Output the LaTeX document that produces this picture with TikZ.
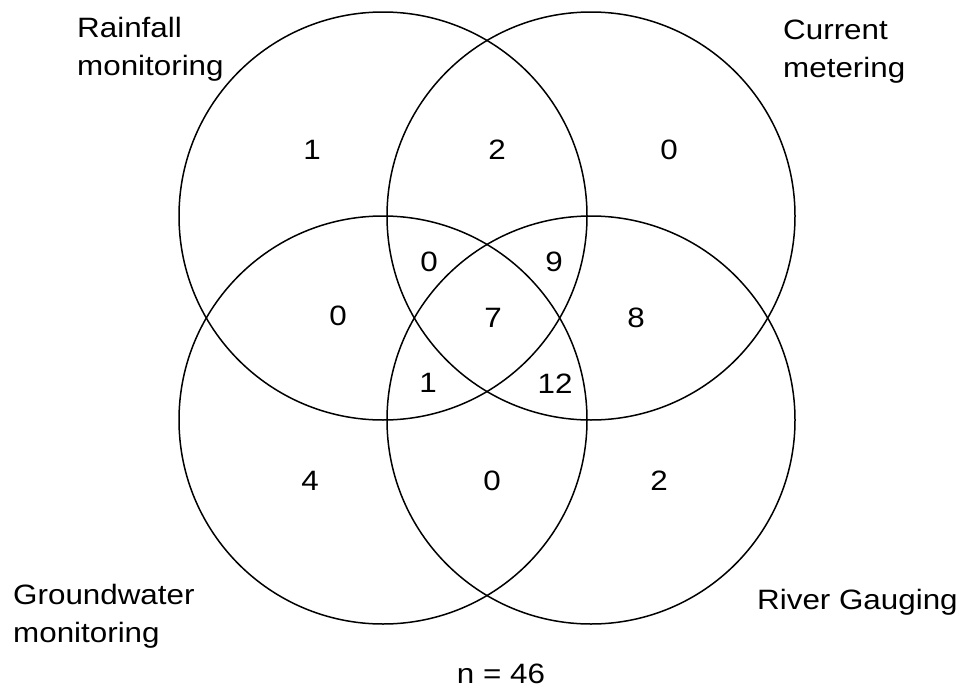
\documentclass[tikz,border=0pt]{standalone}
\usepackage{fontspec}
\setmainfont{Liberation Sans}
\begin{document}
\begin{tikzpicture}[x=1pt,y=-1pt,
  ring/.style={draw=black, line width=1.5pt},
  txt/.style={font=\fontsize{28}{38}\selectfont, xscale=1.12, inner sep=0pt},
  lab/.style={txt, align=left, anchor=base west}]
\useasboundingbox (0,0) rectangle (958,688);
% circles
\node[ring, circle, minimum size=408pt, inner sep=0pt] (rain) at (383,216) {};
\node[ring, circle, minimum size=408pt, inner sep=0pt] (curr) at (591,216) {};
\node[ring, circle, minimum size=408pt, inner sep=0pt] (grnd) at (383,420) {};
\node[ring, circle, minimum size=408pt, inner sep=0pt] (rivr) at (591,420) {};
% labels
\node[lab] (lrain) at (77,75) {Rainfall\\monitoring};
\node[lab] (lcurr) at (783,77) {Current\\metering};
\node[lab] (lgrnd) at (13,642) {Groundwater\\monitoring};
\node[lab] (lrivr) at (757,609) {River Gauging};
\node[txt, anchor=base] (ntot) at (501,683) {n = 46};
% counts
\node[txt] (r) at (312,150) {1};
\node[txt] (rc) at (497,150) {2};
\node[txt] (c) at (669,150) {0};
\node[txt] (rcg) at (429,262) {0};
\node[txt] (rcv) at (554,262) {9};
\node[txt] (rg) at (338,316) {0};
\node[txt] (all) at (493,318) {7};
\node[txt] (cv) at (636,318) {8};
\node[txt] (rgv) at (428,383) {1};
\node[txt] (cgv) at (555,384) {12};
\node[txt] (g) at (310,481) {4};
\node[txt] (gv) at (492,481) {0};
\node[txt] (v) at (659,481) {2};
\end{tikzpicture}
\end{document}
